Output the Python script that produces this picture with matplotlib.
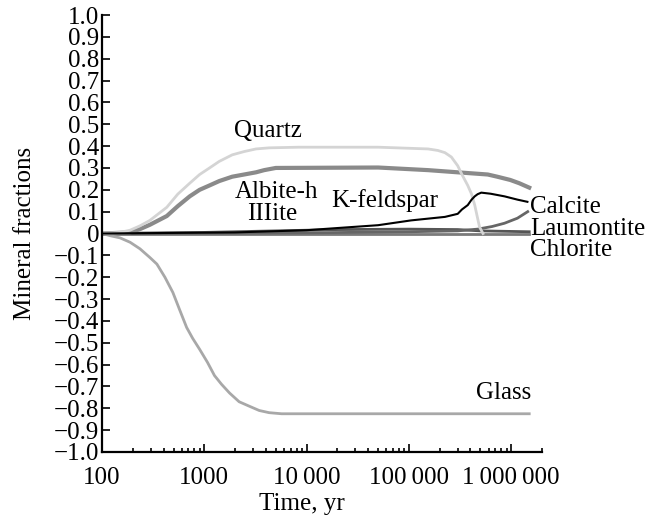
import numpy as np
import matplotlib
matplotlib.use("Agg")
import matplotlib.pyplot as plt
from matplotlib.ticker import FixedLocator, FixedFormatter

plt.rcParams['font.family'] = ['Liberation Serif', 'DejaVu Serif']
plt.rcParams['font.size'] = 18

# values (time in years, mineral fraction)
quartz_t = [100, 150, 188, 235, 294, 430, 550, 720, 900, 1125, 1400, 1875, 2450, 3200, 4300, 8400,
            5e4, 1.54e5, 1.92e5, 2.25e5, 2.6e5, 3e5, 3.3e5, 3.76e5, 4.1e5, 4.4e5, 4.9e5, 5.3e5]
quartz_v = [0, 0.005, 0.015, 0.035, 0.06, 0.12, 0.18, 0.23, 0.27, 0.30, 0.33, 0.36, 0.375, 0.387, 0.392, 0.395,
            0.395, 0.387, 0.38, 0.37, 0.35, 0.31, 0.27, 0.22, 0.18, 0.13, 0.03, 0.0]

albite_t = [100, 188, 235, 294, 430, 550, 720, 900, 1125, 1400, 1875, 2450, 3200, 3850, 5000,
            5e4, 1.54e5, 3e5, 5.9e5, 7.3e5, 9.8e5, 1.2e6, 1.5e6]
albite_v = [0, 0.005, 0.02, 0.04, 0.08, 0.125, 0.17, 0.20, 0.22, 0.24, 0.26, 0.27, 0.28, 0.29, 0.30,
            0.302, 0.29, 0.28, 0.27, 0.26, 0.245, 0.23, 0.21]

glass_t = [100, 120, 150, 188, 235, 294, 344, 412, 493, 575, 672, 770, 900, 1075, 1257, 1473, 1765,
           2190, 2740, 3440, 4300, 5700, 1.5e6]
glass_v = [0, -0.01, -0.02, -0.04, -0.07, -0.11, -0.14, -0.20, -0.27, -0.35, -0.43, -0.48, -0.53, -0.59,
           -0.65, -0.69, -0.73, -0.77, -0.79, -0.81, -0.82, -0.825, -0.825]

calcite_t = [100, 2000, 1e4, 2e4, 5e4, 1.05e5, 2.25e5, 3e5, 3.3e5, 3.76e5, 4.1e5, 4.4e5, 4.7e5, 5.1e5,
             6.3e5, 8.6e5, 1.15e6, 1.44e6]
calcite_v = [0, 0.005, 0.015, 0.025, 0.038, 0.06, 0.076, 0.09, 0.11, 0.13, 0.155, 0.17, 0.18, 0.187,
             0.182, 0.17, 0.155, 0.145]

laum_t = [100, 1e4, 1e5, 3e5, 4.7e5, 6.5e5, 8.6e5, 1.15e6, 1.45e6]
laum_v = [0, 0.003, 0.008, 0.012, 0.02, 0.032, 0.047, 0.07, 0.10]

illite_t = [100, 1000, 5000, 2e4, 1e5, 3e5, 5e5, 1.5e6]
illite_v = [0, 0.005, 0.012, 0.018, 0.02, 0.018, 0.012, 0.008]

chlorite_t = [100, 1.5e6]
chlorite_v = [0, 0]

xticks = [100, 1000, 10000, 100000, 1000000]
xlabels = ['100', '1000', '10\u2009000', '100\u2009000', '1\u2009000\u2009000']
yticks = np.round(np.arange(-1.0, 1.01, 0.1), 1)

fig = plt.figure(figsize=(6.6, 5.18), dpi=100)
ax = fig.add_axes([102 / 660, 1 - 452 / 518, 440 / 660, 437 / 518])

ax.plot(chlorite_t, chlorite_v, color='#7a7a7a', lw=2)
ax.plot(illite_t, illite_v, color='#555555', lw=2)
ax.plot(laum_t, laum_v, color='#666666', lw=2)
ax.plot(glass_t, glass_v, color='#a8a8a8', lw=2)
ax.plot(albite_t, albite_v, color='#8a8a8a', lw=3)
ax.plot(quartz_t, quartz_v, color='#d4d4d4', lw=2)
ax.plot(calcite_t, calcite_v, color='black', lw=1.5)

ax.set_xscale('log')
ax.set_xlim(100, 2e6)
ax.set_ylim(-1.0, 1.0)

ax.xaxis.set_major_locator(FixedLocator(xticks))
ax.xaxis.set_major_formatter(FixedFormatter(xlabels))
minor = [m * 10 ** e for e in range(2, 7) for m in range(2, 10) if m * 10 ** e <= 2e6]
ax.xaxis.set_minor_locator(FixedLocator(minor))
ax.xaxis.set_minor_formatter(FixedFormatter([''] * len(minor)))

ax.set_yticks(yticks)
ax.set_yticklabels(['0' if v == 0 else f'{v:.1f}'.replace('-', '\u2212') for v in yticks])

ax.tick_params(axis='both', which='major', direction='in', length=6, width=1.2, labelsize=18)
ax.tick_params(axis='x', which='minor', direction='in', length=3, width=1.2)
ax.tick_params(axis='y', pad=2)
ax.tick_params(axis='x', pad=11)

for s in ['top', 'right']:
    ax.spines[s].set_visible(False)
for s in ['left', 'bottom']:
    ax.spines[s].set_linewidth(1.6)

ax.set_xlabel('Time, yr', fontsize=18)
ax.xaxis.set_label_coords(0.455, -0.093)
ax.set_ylabel('Mineral fractions', fontsize=18)
ax.yaxis.set_label_coords(-0.15, 0.5)

kw = dict(fontsize=18, ha='left', va='center', clip_on=False)
ax.text(1970, 0.47, 'Quartz', **kw)
ax.text(1970, 0.19, 'Albite-h', **kw)
ax.text(2630, 0.088, 'IIIite', **kw)
ax.text(17600, 0.152, 'K-feldspar', **kw)
ax.text(1.53e6, 0.12, 'Calcite', **kw)
ax.text(1.53e6, 0.02, 'Laumontite', **kw)
ax.text(1.53e6, -0.077, 'Chlorite', **kw)
ax.text(4.5e5, -0.73, 'Glass', **kw)

fig.savefig('out.png', dpi=100)
